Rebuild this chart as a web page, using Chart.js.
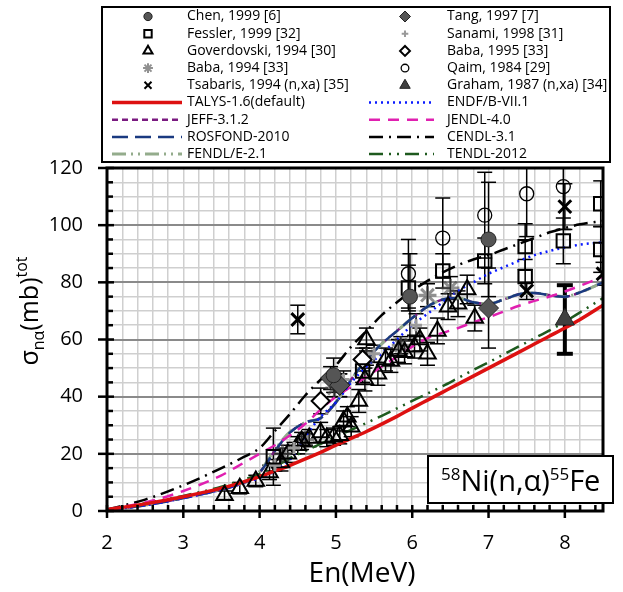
<!DOCTYPE html>
<html>
<head>
<meta charset="utf-8">
<script src="https://cdn.jsdelivr.net/npm/chart.js@4.4.1/dist/chart.umd.min.js"></script>
<style>
  html, body { margin: 0; padding: 0; background: #fff; }
  #wrap { width: 623px; height: 592px; }
</style>
</head>
<body>
<div id="wrap"><canvas id="chart" width="623" height="592"></canvas></div>
<script>
// evaluated cross sections, common energy grid (MeV) -> mb
const curveE  = [2.0, 2.5, 3.0, 3.5, 3.8, 4.0, 4.2, 4.4, 4.6, 4.8, 5.0, 5.2, 5.4, 5.6, 5.8, 6.0, 6.2, 6.4, 6.6, 6.8, 7.0, 7.2, 7.4, 7.6, 7.8, 8.0, 8.2, 8.5];
const talys   = [0.5, 2.5, 5, 8, 10.3, 12, 14, 16, 18.2, 20.5, 23, 25.4, 27.8, 30.4, 33.1, 36, 38.8, 41.6, 44.4, 47.2, 50, 52.8, 55.6, 58.4, 61.2, 64, 67, 72];
const endf    = [0.3, 2, 4.5, 7.5, 9.8, 11.5, 14, 18, 26, 33, 38, 45, 50.5, 55, 60, 65, 69, 73, 77, 80, 83, 85.3, 87.5, 89.5, 91, 92.2, 93.2, 94];
const jeff    = [0.3, 2, 4.5, 7.5, 10, 13.5, 21, 27.5, 31, 32.5, 38, 46, 53, 58.5, 63, 67.5, 71.5, 74, 74.5, 73, 72.5, 74, 75.8, 76.3, 75.5, 75, 76.5, 80];
const jendl   = [0.5, 3, 7, 12.5, 17, 20, 23, 26.5, 30.5, 35.5, 40, 43.5, 47, 50.5, 54, 57.5, 60.5, 62.3, 64, 66, 67.8, 69.8, 71.8, 73.5, 75, 76.8, 78.8, 82];
const rosfond = [0.3, 2, 4.5, 7.5, 10, 13.5, 21, 27.5, 31, 32.5, 38, 46, 53, 58.5, 63, 67.5, 71.5, 74, 74.5, 73, 72.5, 74, 75.8, 76.3, 75.5, 75, 76.5, 80];
const cendl   = [0.5, 4, 9, 15, 19, 22, 28, 34, 40.5, 46, 51, 57.5, 63, 68.5, 73, 77, 80.5, 83.5, 86, 88, 89.5, 91.5, 93.5, 95.5, 97.5, 99, 100.3, 101.5];
const fendl   = [0.3, 2.1, 4.6, 7.6, 10.2, 13.8, 21.5, 27.8, 31, 32.5, 38, 46, 53, 58.5, 63, 67.5, 71.5, 74, 74.5, 73, 72.5, 74, 75.8, 76.3, 75.5, 75, 76.5, 80];
const tendl   = [0.5, 2.7, 5.3, 8.5, 11, 13, 15.5, 18.5, 21, 23.5, 26, 28.4, 30.8, 33.3, 35.9, 38.5, 41.1, 43.7, 46.5, 49.3, 52, 54.8, 57.6, 60.4, 63.2, 66.2, 69.5, 74.5];

// experimental data: energy, cross section, uncertainty
const chenE = [4.97, 5.97, 7.0];
const chenS = [47.5, 75, 95];
const chenErr = [6, 15, 20];
const tangE = [4.93, 5.05, 7.0];
const tangS = [46.5, 44, 71];
const tangErr = [4, 4, 14];
const fesslerE = [4.18, 5.35, 5.95, 6.4, 6.95, 7.48, 7.48, 7.98, 8.47, 8.47];
const fesslerS = [19, 49, 78, 84, 87.5, 82, 92.5, 94.5, 91.5, 107.5];
const fesslerErr = [10, 4, 8, 6, 8, 6, 8, 8, 8, 8];
const sanamiE = [4.2, 4.45, 5.1, 5.5, 6.05];
const sanamiS = [16, 22, 46, 55, 65];
const sanamiErr = [2, 2, 3, 3, 4];
const goverE = [3.54, 3.74, 3.95, 4.13, 4.28, 4.37, 4.5, 4.55, 4.65, 4.8, 4.88, 4.97, 5.05, 5.1, 5.15, 5.2, 5.3, 5.38, 5.4, 5.55, 5.65, 5.72, 5.82, 5.9, 6.03, 6.1, 6.2, 6.33, 6.47, 6.6, 6.72, 6.82];
const goverS = [5.5, 8, 10.5, 13.5, 17, 20, 23, 24.5, 25.5, 27.5, 25.5, 26, 26.5, 31.5, 33, 29.5, 38.5, 46, 60, 48, 53, 52.5, 56, 55.5, 57.5, 60, 55, 63, 71.5, 72.5, 77.5, 67.5];
const goverErr = [1.5, 2, 2, 2.5, 3, 3, 3, 3, 3, 3.5, 3, 3, 3, 3.5, 3.5, 3.5, 4, 4, 4, 4, 4, 4, 4, 4, 4, 4, 4, 4.5, 4.5, 4.5, 5, 4.5];
const baba95E = [4.8, 5.05, 5.35];
const baba95S = [38.5, 44, 53];
const baba95Err = [4.5, 4, 4];
const baba94E = [4.3, 4.6, 4.98, 5.4, 5.85, 6.2, 6.5];
const baba94S = [20, 25, 43, 54, 58, 75.5, 78];
const baba94Err = [2, 2, 3, 3, 3, 4, 4];
const qaimE = [5.95, 6.4, 6.95, 7.5, 7.98];
const qaimS = [83, 95.5, 103.5, 111, 113.5];
const qaimErr = [12, 14, 15, 15, 15];
const tsabE = [4.5, 7.5, 8.0, 8.5];
const tsabS = [67, 77, 106.5, 83];
const tsabErr = [5, 3, 8, 4];
const grahamE = [8.0];
const grahamS = [67];
const grahamErr = [12];

const xTicks = [2, 3, 4, 5, 6, 7, 8];
const yTicks = [0, 20, 40, 60, 80, 100, 120];

function pts(e, s) {
    return e.map((x, i) => ({ x: x, y: s[i] }));
}

function expSet(label, e, s, err, style) {
    return Object.assign({ label: label, data: pts(e, s), errors: err, showLine: false, order: 0 }, style);
}

function evalSet(label, s, style) {
    return Object.assign({
        label: label, data: pts(curveE, s), showLine: true, pointRadius: 0,
        cubicInterpolationMode: 'monotone', fill: false, order: 1
    }, style);
}

const clear = 'rgba(255,255,255,0)';
const datasets = [
    expSet('Chen, 1999 [6]', chenE, chenS, chenErr,
        { pointStyle: 'circle', pointRadius: 7.5, pointBackgroundColor: '#555', pointBorderColor: '#222', pointBorderWidth: 1 }),
    expSet('Tang, 1997 [7]', tangE, tangS, tangErr,
        { pointStyle: 'rectRot', pointRadius: 10, pointBackgroundColor: '#555', pointBorderColor: '#222', pointBorderWidth: 1 }),
    expSet('Fessler, 1999 [32]', fesslerE, fesslerS, fesslerErr,
        { pointStyle: 'rect', pointRadius: 9.5, pointBackgroundColor: clear, pointBorderColor: '#000', pointBorderWidth: 2 }),
    expSet('Sanami, 1998 [31]', sanamiE, sanamiS, sanamiErr,
        { pointStyle: 'cross', pointRadius: 6, pointBackgroundColor: clear, pointBorderColor: '#9a9a9a', pointBorderWidth: 3 }),
    expSet('Goverdovski, 1994 [30]', goverE, goverS, goverErr,
        { pointStyle: 'triangle', pointRadius: 9.5, pointBackgroundColor: clear, pointBorderColor: '#000', pointBorderWidth: 2 }),
    expSet('Baba, 1995 [33]', baba95E, baba95S, baba95Err,
        { pointStyle: 'rectRot', pointRadius: 9, pointBackgroundColor: '#fff', pointBorderColor: '#000', pointBorderWidth: 2 }),
    expSet('Baba, 1994 [33]', baba94E, baba94S, baba94Err,
        { pointStyle: 'star', pointRadius: 9, pointBackgroundColor: clear, pointBorderColor: 'rgba(70,70,70,0.6)', pointBorderWidth: 3 }),
    expSet('Qaim, 1984 [29]', qaimE, qaimS, qaimErr,
        { pointStyle: 'circle', pointRadius: 7, pointBackgroundColor: clear, pointBorderColor: '#000', pointBorderWidth: 1.3 }),
    expSet('Tsabaris, 1994 (n,xa) [35]', tsabE, tsabS, tsabErr,
        { pointStyle: 'crossRot', pointRadius: 9, pointBackgroundColor: clear, pointBorderColor: '#000', pointBorderWidth: 3 }),
    expSet('Graham, 1987 (n,xa) [34]', grahamE, grahamS, grahamErr,
        { pointStyle: 'triangle', pointRadius: 11, pointBackgroundColor: '#404040', pointBorderColor: '#222', pointBorderWidth: 1, thickBar: true }),
    evalSet('TALYS-1.6(default)', talys, { borderColor: '#dd1111', borderWidth: 3.5 }),
    evalSet('ENDF/B-VII.1', endf, { borderColor: '#0a1aff', borderWidth: 2.5, borderDash: [2, 4] }),
    evalSet('JEFF-3.1.2', jeff, { borderColor: '#7a1a80', borderWidth: 2.5, borderDash: [6, 4], order: 4 }),
    evalSet('JENDL-4.0', jendl, { borderColor: '#e020b0', borderWidth: 2.5, borderDash: [11, 8] }),
    evalSet('ROSFOND-2010', rosfond, { borderColor: '#1a3a80', borderWidth: 2.5, borderDash: [16, 7], order: 2 }),
    evalSet('CENDL-3.1', cendl, { borderColor: '#000', borderWidth: 2.5, borderDash: [14, 6, 2, 6] }),
    evalSet('FENDL/E-2.1', fendl, { borderColor: '#94ac8c', borderWidth: 3, borderDash: [14, 5, 2, 5, 2, 5], order: 3 }),
    evalSet('TENDL-2012', tendl, { borderColor: '#1e5a1e', borderWidth: 2.5, borderDash: [14, 6, 2, 6, 2, 6] })
];

function line(ctx, x0, y0, x1, y1) {
    ctx.beginPath();
    ctx.moveTo(x0, y0);
    ctx.lineTo(x1, y1);
    ctx.stroke();
}

function richText(ctx, parts, x, y) {
    // parts: [text, size, baseline shift]
    parts.forEach(p => {
        ctx.font = p[1] + 'px "Open Sans"';
        ctx.fillText(p[0], x, y + p[2]);
        x += ctx.measureText(p[0]).width;
    });
}

function richWidth(ctx, parts) {
    let w = 0;
    parts.forEach(p => { ctx.font = p[1] + 'px "Open Sans"'; w += ctx.measureText(p[0]).width; });
    return w;
}

const decor = {
    id: 'decor',
    beforeDatasetsDraw(chart) {
        const ctx = chart.ctx, ca = chart.chartArea;
        const xs = chart.scales.x, ys = chart.scales.y;
        ctx.save();
        ctx.beginPath();
        ctx.rect(ca.left, ca.top, ca.right - ca.left, ca.bottom - ca.top);
        ctx.clip();
        ctx.strokeStyle = '#000';
        chart.data.datasets.forEach(ds => {
            if (!ds.errors) return;
            ctx.lineWidth = ds.thickBar ? 4 : 1.5;
            const cap = ds.thickBar ? 8 : 7.5;
            ds.data.forEach((p, i) => {
                const x = xs.getPixelForValue(p.x);
                const yTop = ys.getPixelForValue(p.y + ds.errors[i]);
                const yBot = ys.getPixelForValue(p.y - ds.errors[i]);
                line(ctx, x, yTop, x, yBot);
                line(ctx, x - cap, yTop, x + cap, yTop);
                line(ctx, x - cap, yBot, x + cap, yBot);
            });
        });
        ctx.restore();
    },
    afterDraw(chart) {
        const ctx = chart.ctx, ca = chart.chartArea;
        const xs = chart.scales.x, ys = chart.scales.y;
        ctx.save();
        ctx.strokeStyle = '#000';
        ctx.lineCap = 'butt';

        // tick marks
        ctx.lineWidth = 2.5;
        for (let v = 0; v <= 120; v += 5) {
            const y = ys.getPixelForValue(v);
            if (v % 20 === 0) line(ctx, ca.left - 9, y, ca.left + 7, y);
            else line(ctx, ca.left, y, ca.left + 6, y);
        }
        for (let k = 0; k <= 32; k++) {
            const x = xs.getPixelForValue(2 + k * 0.2);
            if (k % 5 === 0) line(ctx, x, ca.bottom - 6, x, ca.bottom + 7);
            else line(ctx, x, ca.bottom - 6, x, ca.bottom);
        }

        // frame
        ctx.lineWidth = 3;
        ctx.strokeRect(ca.left, ca.top, ca.right - ca.left, ca.bottom - ca.top);

        // reaction label
        ctx.fillStyle = '#fff';
        ctx.fillRect(428, 456, 185, 47);
        ctx.lineWidth = 2;
        ctx.strokeRect(428, 456, 185, 47);
        ctx.fillStyle = '#000';
        ctx.textBaseline = 'alphabetic';
        ctx.textAlign = 'left';
        richText(ctx, [['58', 17, -11], ['Ni(n,α)', 29, 0], ['55', 17, -11], ['Fe', 29, 0]], 441, 491);

        // axis titles
        ctx.font = '28px "Open Sans"';
        ctx.textAlign = 'center';
        ctx.fillText('En(MeV)', 362, 582);
        ctx.textAlign = 'left';
        const yParts = [['σ', 25, 0], ['nα', 16, 6], ['(mb)', 25, 0], ['tot', 16, -11]];
        ctx.save();
        ctx.translate(38, 311);
        ctx.rotate(-Math.PI / 2);
        richText(ctx, yParts, -richWidth(ctx, yParts) / 2, 0);
        ctx.restore();

        // legend
        ctx.fillStyle = '#fff';
        ctx.fillRect(102, 7, 508, 155);
        ctx.lineWidth = 2;
        ctx.strokeStyle = '#000';
        ctx.strokeRect(102, 7, 508, 155);
        chart.data.datasets.forEach((ds, i) => {
            const row = Math.floor(i / 2), col = i % 2;
            const y = 16.5 + row * 17.2;
            const lx0 = col ? 369 : 112, lx1 = col ? 434 : 182;
            const mx = col ? 405 : 148, tx = col ? 447 : 187;
            ctx.save();
            if (ds.showLine) {
                ctx.strokeStyle = ds.borderColor;
                ctx.lineWidth = ds.borderWidth;
                ctx.setLineDash(ds.borderDash || []);
                line(ctx, lx0, y, lx1, y);
            } else {
                ctx.fillStyle = ds.pointBackgroundColor;
                ctx.strokeStyle = ds.pointBorderColor;
                ctx.lineWidth = Math.min(ds.pointBorderWidth, 2);
                Chart.helpers.drawPoint(ctx, {
                    pointStyle: ds.pointStyle, radius: ds.pointRadius * 0.55,
                    borderWidth: ctx.lineWidth, rotation: 0
                }, mx, y);
            }
            ctx.restore();
            ctx.fillStyle = '#000';
            ctx.font = '14px "Open Sans"';
            ctx.textBaseline = 'middle';
            ctx.fillText(ds.label, tx, y);
        });
        ctx.restore();
    }
};

new Chart(document.getElementById('chart'), {
    type: 'scatter',
    data: { datasets: datasets },
    options: {
        responsive: false,
        animation: false,
        devicePixelRatio: 1,
        layout: { padding: { top: 168, right: 6, left: 0, bottom: 0 } },
        plugins: { legend: { display: false }, tooltip: { enabled: false } },
        scales: {
            x: {
                type: 'linear', min: 2, max: 8.5,
                afterFit: s => { s.height = 81; },
                border: { display: false },
                grid: { color: '#cfcfcf', lineWidth: 1.5, drawTicks: false },
                ticks: {
                    stepSize: 0.2, autoSkip: false, maxRotation: 0, padding: 20,
                    color: '#000', font: { family: 'Open Sans', size: 20 },
                    callback: v => {
                        const r = Math.round(v);
                        return (Math.abs(v - r) < 1e-6 && xTicks.includes(r)) ? String(r) : '';
                    }
                }
            },
            y: {
                type: 'linear', min: 0, max: 120,
                afterFit: s => { s.width = 107; },
                border: { display: false },
                grid: {
                    drawTicks: false,
                    color: c => (c.tick.value % 20 === 0 ? '#8a8a8a' : '#cfcfcf'),
                    lineWidth: c => (c.tick.value % 20 === 0 ? 2 : 1.5)
                },
                ticks: {
                    stepSize: 5, autoSkip: false, padding: 24,
                    color: '#000', font: { family: 'Open Sans', size: 20 },
                    callback: v => (yTicks.includes(v) ? String(v) : '')
                }
            }
        }
    },
    plugins: [decor]
});
</script>
</body>
</html>
